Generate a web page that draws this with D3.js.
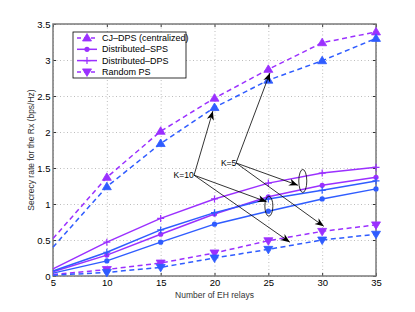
<!DOCTYPE html>
<html>
<head>
<meta charset="utf-8">
<script src="https://cdn.jsdelivr.net/npm/d3@7"></script>
<style>
	body { margin: 0; background: #fff; }
	text { font-family: "Liberation Sans", Arial, sans-serif; }
</style>
</head>
<body>
<figure id="chart" style="margin:0"></figure>
<script>
// data
var relays = [ 5, 10, 15, 20, 25, 30, 35 ];
var xTicks = [ 5, 10, 15, 20, 25, 30, 35 ];
var yTicks = [ 0, 0.5, 1, 1.5, 2, 2.5, 3, 3.5 ];

// K=10 (purple) and K=5 (blue)
var cjK10 = [ 0.52, 1.37, 2.01, 2.47, 2.87, 3.24, 3.39 ];
var cjK5 = [ 0.40, 1.24, 1.84, 2.34, 2.72, 2.99, 3.30 ];
var spsK10 = [ 0.06, 0.29, 0.58, 0.86, 1.10, 1.26, 1.37 ];
var spsK5 = [ 0.04, 0.21, 0.47, 0.72, 0.90, 1.07, 1.21 ];
var dpsK10 = [ 0.10, 0.47, 0.80, 1.07, 1.29, 1.43, 1.51 ];
var dpsK5 = [ 0.07, 0.33, 0.64, 0.88, 1.07, 1.19, 1.32 ];
var rndK10 = [ 0.02, 0.09, 0.18, 0.32, 0.49, 0.62, 0.71 ];
var rndK5 = [ 0.01, 0.05, 0.12, 0.25, 0.37, 0.50, 0.58 ];

var legendLabels = [ "CJ\u2013DPS (centralized)", "Distributed\u2013SPS", "Distributed\u2013DPS", "Random PS" ];

var purple = "#9b30ff";
var blue = "#2f5cff";

var dimensions = {
	width: 415,
	height: 312,
	margin: { top: 24, right: 39, bottom: 36, left: 53 }
};
dimensions.boundedWidth = dimensions.width - dimensions.margin.left - dimensions.margin.right;
dimensions.boundedHeight = dimensions.height - dimensions.margin.top - dimensions.margin.bottom;

var svg = d3.select( "figure#chart" )
	.append( "svg" )
	.attr( "width", dimensions.width )
	.attr( "height", dimensions.height );

var defs = svg.append( "defs" );
defs.append( "marker" )
	.attr( "id", "arrow" )
	.attr( "viewBox", "0 0 10 10" )
	.attr( "refX", 10 )
	.attr( "refY", 5 )
	.attr( "markerWidth", 9 )
	.attr( "markerHeight", 9 )
	.attr( "markerUnits", "userSpaceOnUse" )
	.attr( "orient", "auto" )
	.append( "path" )
	.attr( "d", "M0,1 L10,5 L0,9 L3,5 Z" )
	.attr( "fill", "#000" );

var chart = svg.append( "g" )
	.attr( "transform", `translate(${dimensions.margin.left},${dimensions.margin.top})` );

var xScale = d3.scaleLinear()
	.domain( [ 5, 35 ] )
	.range( [ 0, dimensions.boundedWidth ] );

var yScale = d3.scaleLinear()
	.domain( [ 0, 3.5 ] )
	.range( [ dimensions.boundedHeight, 0 ] );

// dotted grid
chart.append( "g" )
	.call( d3.axisBottom( xScale ).tickValues( xTicks ).tickSize( dimensions.boundedHeight ).tickFormat( "" ) )
	.call( g => g.select( ".domain" ).remove() )
	.selectAll( "line" )
	.attr( "stroke", "#bdbdbd" )
	.attr( "stroke-dasharray", "1,2.5" );

chart.append( "g" )
	.call( d3.axisRight( yScale ).tickValues( yTicks ).tickSize( dimensions.boundedWidth ).tickFormat( "" ) )
	.call( g => g.select( ".domain" ).remove() )
	.selectAll( "line" )
	.attr( "stroke", "#bdbdbd" )
	.attr( "stroke-dasharray", "1,2.5" );

// axes with inward ticks and labels
var xAxis = chart.append( "g" )
	.attr( "transform", `translate(0, ${dimensions.boundedHeight})` )
	.call( d3.axisBottom( xScale ).tickValues( xTicks ).tickSize( -3 ).tickPadding( 3 ) );
xAxis.select( ".domain" ).remove();

var yAxis = chart.append( "g" )
	.call( d3.axisLeft( yScale ).tickValues( yTicks ).tickSize( -3 ).tickPadding( 2.5 ).tickFormat( d3.format( "" ) ) );
yAxis.select( ".domain" ).remove();

chart.append( "g" )
	.attr( "transform", `translate(${dimensions.boundedWidth},0)` )
	.call( d3.axisRight( yScale ).tickValues( yTicks ).tickSize( -3 ).tickFormat( "" ) )
	.select( ".domain" ).remove();
chart.append( "g" )
	.call( d3.axisTop( xScale ).tickValues( xTicks ).tickSize( -3 ).tickFormat( "" ) )
	.select( ".domain" ).remove();

chart.selectAll( ".tick line" ).filter( function() { return !d3.select( this ).attr( "stroke-dasharray" ); } )
	.attr( "stroke", "#333" );

chart.selectAll( ".tick text" )
	.style( "font-family", "'Liberation Sans', Arial, sans-serif" )
	.style( "font-size", "9.5px" )
	.style( "fill", "#000" );

// box
chart.append( "rect" )
	.attr( "width", dimensions.boundedWidth )
	.attr( "height", dimensions.boundedHeight )
	.attr( "fill", "none" )
	.attr( "stroke", "#7a7a7a" )
	.attr( "stroke-width", 1.5 );

// series
var series = [
	{ values: cjK10, color: purple, dash: true, marker: "up" },
	{ values: cjK5, color: blue, dash: true, marker: "up" },
	{ values: spsK10, color: purple, dash: false, marker: "circle" },
	{ values: spsK5, color: blue, dash: false, marker: "circle" },
	{ values: dpsK10, color: purple, dash: false, marker: "plus" },
	{ values: dpsK5, color: blue, dash: false, marker: "plus" },
	{ values: rndK10, color: purple, dash: true, marker: "down" },
	{ values: rndK5, color: blue, dash: true, marker: "down" }
];

var line = d3.line()
	.x( ( d, i ) => xScale( relays[ i ] ) )
	.y( d => yScale( d ) );

function drawMarker( g, type, color, x, y ) {
	if ( type === "up" ) {
		g.append( "path" ).attr( "d", `M${x},${y - 4.5} L${x + 4.5},${y + 3} L${x - 4.5},${y + 3} Z` )
			.attr( "fill", color ).attr( "stroke", color ).attr( "stroke-width", 0.8 );
	} else if ( type === "down" ) {
		g.append( "path" ).attr( "d", `M${x},${y + 4.5} L${x + 4.5},${y - 3} L${x - 4.5},${y - 3} Z` )
			.attr( "fill", color ).attr( "stroke", color ).attr( "stroke-width", 0.8 );
	} else if ( type === "circle" ) {
		g.append( "circle" ).attr( "cx", x ).attr( "cy", y ).attr( "r", 2.6 ).attr( "fill", color );
	} else {
		g.append( "path" ).attr( "d", `M${x - 3.5},${y} H${x + 3.5} M${x},${y - 3.5} V${y + 3.5}` )
			.attr( "stroke", color ).attr( "stroke-width", 1.2 );
	}
}

series.forEach( function( s ) {
	chart.append( "path" )
		.datum( s.values )
		.attr( "d", line )
		.attr( "fill", "none" )
		.attr( "stroke", s.color )
		.attr( "stroke-width", 1.5 )
		.attr( "stroke-dasharray", s.dash ? "5,3.5" : null );
	var mg = chart.append( "g" );
	s.values.forEach( function( v, i ) {
		if ( relays[ i ] === 5 ) return; // no marker at the first point
		drawMarker( mg, s.marker, s.color, xScale( relays[ i ] ), yScale( v ) );
	} );
} );

// annotations (data coordinates)
var k10Label = { x: 16.2, y: 1.40 };
var k10Start = { x: 18.1, y: 1.40 };
var k10Ends = [ { x: 19.85, y: 2.29 }, { x: 24.85, y: 1.03 }, { x: 27.0, y: 0.47 } ];
var k5Label = { x: 20.6, y: 1.57 };
var k5Start = { x: 22.0, y: 1.57 };
var k5Ends = [ { x: 25.15, y: 2.82 }, { x: 27.75, y: 1.26 }, { x: 30.15, y: 0.69 } ];
var ellipses = [ { x: 25.05, y: 0.97, rx: 4, ry: 10 }, { x: 28.2, y: 1.32, rx: 4, ry: 11.5 } ];

var ann = chart.append( "g" );
[ [ k10Start, k10Ends ], [ k5Start, k5Ends ] ].forEach( function( pair ) {
	pair[ 1 ].forEach( function( e ) {
		ann.append( "line" )
			.attr( "x1", xScale( pair[ 0 ].x ) ).attr( "y1", yScale( pair[ 0 ].y ) )
			.attr( "x2", xScale( e.x ) ).attr( "y2", yScale( e.y ) )
			.attr( "stroke", "#000" ).attr( "stroke-width", 0.8 )
			.attr( "marker-end", "url(#arrow)" );
	} );
} );
ellipses.forEach( function( e ) {
	ann.append( "ellipse" )
		.attr( "cx", xScale( e.x ) ).attr( "cy", yScale( e.y ) )
		.attr( "rx", e.rx ).attr( "ry", e.ry )
		.attr( "fill", "none" ).attr( "stroke", "#000" ).attr( "stroke-width", 0.8 );
} );
[ [ k10Label, "K=10" ], [ k5Label, "K=5" ] ].forEach( function( t ) {
	ann.append( "text" )
		.attr( "x", xScale( t[ 0 ].x ) ).attr( "y", yScale( t[ 0 ].y ) )
		.attr( "dy", "0.35em" )
		.style( "font-size", "8.5px" )
		.text( t[ 1 ] );
} );

// legend
var legend = chart.append( "g" ).attr( "transform", "translate(20,8)" );
legend.append( "rect" )
	.attr( "width", 113 ).attr( "height", 46 )
	.attr( "fill", "#fff" ).attr( "stroke", "#000" ).attr( "stroke-width", 0.8 );
var legendStyle = [ [ true, "up" ], [ false, "circle" ], [ false, "plus" ], [ true, "down" ] ];
legendLabels.forEach( function( lab, i ) {
	var y = 6 + i * 11.3;
	legend.append( "line" )
		.attr( "x1", 4 ).attr( "x2", 24 ).attr( "y1", y ).attr( "y2", y )
		.attr( "stroke", purple ).attr( "stroke-width", 1.5 )
		.attr( "stroke-dasharray", legendStyle[ i ][ 0 ] ? "4,3" : null );
	drawMarker( legend, legendStyle[ i ][ 1 ], purple, 14, y );
	legend.append( "text" )
		.attr( "x", 29 ).attr( "y", y ).attr( "dy", "0.35em" )
		.style( "font-size", "9px" )
		.text( lab );
} );

// axis titles
svg.append( "text" )
	.attr( "x", dimensions.margin.left + dimensions.boundedWidth / 2 )
	.attr( "y", 298 )
	.attr( "text-anchor", "middle" )
	.style( "font-size", "8.5px" )
	.style( "fill", "#333" )
	.text( "Number of EH relays" );

svg.append( "text" )
	.attr( "transform", `translate(34, ${dimensions.margin.top + dimensions.boundedHeight / 2}) rotate(-90)` )
	.attr( "text-anchor", "middle" )
	.style( "font-size", "8.5px" )
	.style( "fill", "#333" )
	.text( "Secrecy rate for the Rx (bps/Hz)" );
</script>
</body>
</html>
